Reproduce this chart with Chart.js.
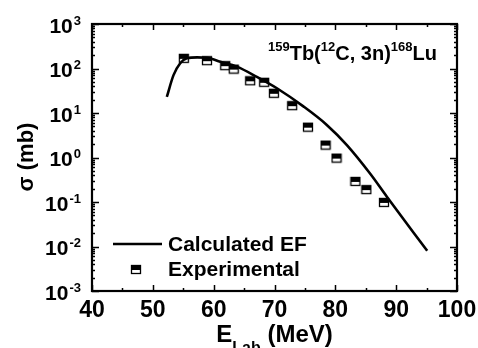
<!DOCTYPE html>
<html>
<head>
<meta charset="utf-8">
<script src="https://cdn.jsdelivr.net/npm/chart.js@4"></script>
<style>
html,body{margin:0;padding:0;background:#fff;}
#wrap{width:478px;height:348px;}
</style>
</head>
<body>
<div id="wrap"><canvas id="c" width="478" height="348"></canvas></div>
<script>
// ---- data ----
const expE = [55.1, 58.9, 61.9, 63.3, 66.0, 68.3, 69.9, 72.9, 75.5, 78.4, 80.2, 83.3, 85.1, 88.0];
const expSigma = [169, 150, 116, 97, 53, 49, 27.7, 14.6, 4.8, 1.9, 0.97, 0.29, 0.19, 0.098];
const calcE = [52.3, 53.4, 54.5, 55.6, 57.3, 58.9, 61.1, 63.8, 67.1, 70.4, 74.8, 78.6, 81.9, 85.8, 88.5, 95.1];
const calcSigma = [23, 71, 131, 169, 178, 175, 142, 110, 65, 36, 13.9, 5.4, 1.9, 0.42, 0.13, 0.008];
const xTicks = [40, 50, 60, 70, 80, 90, 100];
const yExponents = [-3, -2, -1, 0, 1, 2, 3];
const seriesLabels = ["Calculated EF", "Experimental"];

const FONT = '"Liberation Sans", Arial, Helvetica, sans-serif';

function makeMarker(){
  const c = document.createElement('canvas');
  c.width = 12; c.height = 11;
  const g = c.getContext('2d');
  g.fillStyle = '#fff'; g.fillRect(1,1,10,9);
  g.fillStyle = '#000'; g.fillRect(1,1,10,5);
  g.strokeStyle = '#000'; g.lineWidth = 1.3;
  g.strokeRect(1.5,1.5,9,8);
  return c;
}
const marker = makeMarker();

const axesPlugin = {
  id: 'axesPlugin',
  afterDraw(chart){
    const ctx = chart.ctx;
    const xs = chart.scales.x, ys = chart.scales.y;
    const a = chart.chartArea;
    ctx.save();
    ctx.strokeStyle = '#000';
    ctx.fillStyle = '#000';
    // ticks
    ctx.lineWidth = 1.5;
    ctx.beginPath();
    for (let v = 40; v <= 100; v += 5) {
      const px = Math.round(xs.getPixelForValue(v)) + 0.5;
      const len = (v % 10 === 0) ? 6 : 3;
      ctx.moveTo(px, a.bottom); ctx.lineTo(px, a.bottom - len);
      ctx.moveTo(px, a.top); ctx.lineTo(px, a.top + len);
    }
    for (let e = -3; e <= 3; e++) {
      for (let m = 1; m <= 9; m++) {
        if (e === 3 && m > 1) break;
        const v = m * Math.pow(10, e);
        const py = Math.round(ys.getPixelForValue(v)) + 0.5;
        const len = (m === 1) ? 7 : 3;
        ctx.moveTo(a.left, py); ctx.lineTo(a.left + len, py);
        ctx.moveTo(a.right, py); ctx.lineTo(a.right - len, py);
      }
    }
    ctx.stroke();
    // frame
    ctx.lineWidth = 2.2;
    ctx.strokeRect(a.left, a.top, a.right - a.left, a.bottom - a.top);

    // x tick labels
    ctx.font = 'bold 23px ' + FONT;
    ctx.textAlign = 'center';
    ctx.textBaseline = 'alphabetic';
    xTicks.forEach(v => {
      ctx.fillText(String(v), xs.getPixelForValue(v), 317);
    });
    // y tick labels
    yExponents.forEach(e => {
      const py = ys.getPixelForValue(Math.pow(10, e));
      ctx.font = 'bold 13px ' + FONT;
      const sup = String(e);
      const ws = ctx.measureText(sup).width;
      ctx.font = 'bold 21px ' + FONT;
      const wb = ctx.measureText('10').width;
      const right = 81;
      ctx.textAlign = 'left';
      ctx.fillText('10', right - ws - wb - 1, py + 8.5);
      ctx.font = 'bold 13px ' + FONT;
      ctx.fillText(sup, right - ws, py + 0.5);
    });
    // y axis title
    ctx.save();
    ctx.translate(33, 157);
    ctx.rotate(-Math.PI / 2);
    ctx.font = 'bold 22px ' + FONT;
    ctx.textAlign = 'center';
    ctx.fillText('\u03C3 (mb)', 0, 0);
    ctx.restore();

    // x axis title: E_Lab (MeV)
    ctx.textAlign = 'left';
    const cx = (a.left + a.right) / 2;
    ctx.font = 'bold 24px ' + FONT;
    const wE = ctx.measureText('E').width;
    const wM = ctx.measureText(' (MeV)').width;
    ctx.font = 'bold 16px ' + FONT;
    const wL = ctx.measureText('Lab').width;
    let x0 = cx - (wE + wL + wM) / 2;
    ctx.font = 'bold 24px ' + FONT;
    ctx.fillText('E', x0, 342);
    ctx.font = 'bold 16px ' + FONT;
    ctx.fillText('Lab', x0 + wE, 353);
    ctx.font = 'bold 24px ' + FONT;
    ctx.fillText(' (MeV)', x0 + wE + wL, 342);

    // reaction label
    let tx = 268; const tb = 60;
    const parts = [['159', true], ['Tb(', false], ['12', true], ['C, 3n)', false], ['168', true], ['Lu', false]];
    parts.forEach(([t, sup]) => {
      ctx.font = 'bold ' + (sup ? 13 : 20) + 'px ' + FONT;
      ctx.fillText(t, tx, sup ? tb - 9 : tb);
      tx += ctx.measureText(t).width;
    });

    // legend
    ctx.lineWidth = 2.5;
    ctx.beginPath();
    ctx.moveTo(113, 244); ctx.lineTo(162, 244);
    ctx.stroke();
    ctx.drawImage(marker, 130, 264);
    ctx.font = 'bold 21px ' + FONT;
    ctx.textBaseline = 'middle';
    ctx.fillText(seriesLabels[0], 168, 245);
    ctx.fillText(seriesLabels[1], 168, 270);
    ctx.restore();
  }
};

new Chart(document.getElementById('c'), {
  type: 'scatter',
  data: {
    datasets: [
      {
        label: seriesLabels[0],
        data: calcE.map((x, i) => ({x: x, y: calcSigma[i]})),
        showLine: true,
        borderColor: '#000',
        borderWidth: 2.6,
        pointRadius: 0,
        cubicInterpolationMode: 'monotone',
        fill: false
      },
      {
        label: seriesLabels[1],
        data: expE.map((x, i) => ({x: x, y: expSigma[i]})),
        showLine: false,
        pointStyle: marker,
        pointRadius: 5
      }
    ]
  },
  options: {
    responsive: false,
    animation: false,
    events: [],
    layout: { padding: { left: 92, right: 21, top: 24, bottom: 57 } },
    plugins: { legend: { display: false }, tooltip: { enabled: false }, title: { display: false } },
    scales: {
      x: { type: 'linear', min: 40, max: 100, display: false },
      y: { type: 'logarithmic', min: 0.001, max: 1000, display: false }
    }
  },
  plugins: [axesPlugin]
});
</script>
</body>
</html>
